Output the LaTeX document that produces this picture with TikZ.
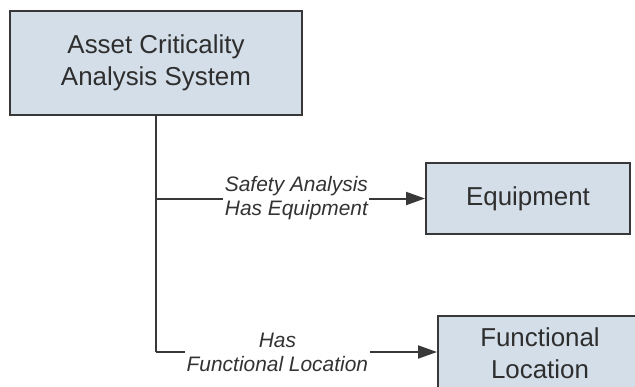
\documentclass[tikz,border=0pt]{standalone}
\usepackage{fontspec}
\setmainfont{Liberation Sans}
\usepackage{tikz}
\usetikzlibrary{positioning,arrows.meta}

\definecolor{boxfill}{HTML}{D4DEE8}
\definecolor{boxline}{HTML}{383838}

\tikzset{
  famnode/.style={draw=boxline, fill=boxfill, line width=2bp, align=center,
    font=\fontsize{26}{32}\selectfont, text=black!82, inner sep=0pt},
  relline/.style={draw=boxline, line width=2bp},
  relarrow/.style={relline, -{Triangle[length=19bp,width=13bp]}},
  rellabel/.style={fill=white, align=center, inner sep=1.5bp,
    font=\fontsize{21}{24}\selectfont\itshape, text=black!80}
}

\begin{document}
\begin{tikzpicture}[x=1bp, y=1bp]
\clip (0,0) rectangle (635,-386);
\fill[white] (0,0) rectangle (635,-386);

% Families
\node[famnode, minimum width=292bp, minimum height=104bp] (acas) at (156,-63) {Asset Criticality\\Analysis System};
\node[famnode, minimum width=204bp, minimum height=71bp] (equip) at (528,-198.5) {Equipment};
\node[famnode, minimum width=204bp, minimum height=74bp] (floc) at (540,-353) {Functional\\Location};

% Trunk
\coordinate (j1) at (acas.south |- equip.west);
\coordinate (j2) at (acas.south |- 0,-352);
\draw[relline] (acas.south) -- (j2);

% Relationships
\draw[relarrow] (j1) -- node[rellabel, pos=0.522] (lab1) {Safety Analysis\\Has Equipment} (equip.west);
\draw[relarrow] (j2) -- node[rellabel, pos=0.432] (lab2) {Has\\Functional Location} (floc.west |- j2);
\end{tikzpicture}
\end{document}
